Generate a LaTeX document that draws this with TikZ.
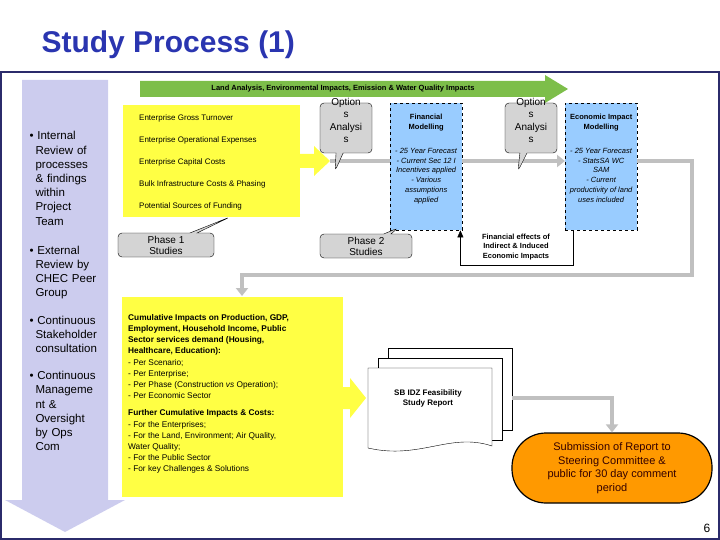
\documentclass[tikz,border=0pt]{standalone}
\usepackage{fontspec}
\setmainfont{Liberation Sans}
\usetikzlibrary{calc, positioning, shapes.callouts, shapes.arrows, arrows.meta}
\definecolor{navy}{HTML}{2B2B6B}
\definecolor{titleblue}{HTML}{2A35B0}
\definecolor{lav}{HTML}{CCCCEE}
\definecolor{boxyellow}{HTML}{FFFF44}
\definecolor{boxblue}{HTML}{99CCFF}
\definecolor{flowgray}{HTML}{C0C0C0}
\definecolor{callgray}{HTML}{D4D4D4}
\definecolor{leafgreen}{HTML}{7DBE4A}
\definecolor{orangepill}{HTML}{FF9900}
\tikzset{
  yellowbox/.style={fill=boxyellow, draw=none, inner sep=0pt, anchor=north west},
  modelbox/.style={fill=boxblue, draw, dashed, anchor=north west, minimum width=72pt, minimum height=127pt, inner sep=0pt},
  boxtext/.style={anchor=north, align=center, inner sep=0pt, font=\fontsize{7.5}{9.8}\selectfont},
  callout/.style={rectangle callout, rounded corners=4pt, fill=callgray, draw, align=center, font=\fontsize{10}{11}\selectfont},
  flow/.style={draw=flowgray, line width=4pt},
  flowtip/.style={flow, -{Triangle[length=8pt,width=12pt]}},
  page/.style={draw, fill=white}
}
\begin{document}
\begin{tikzpicture}[x=1pt,y=-1pt]
    \useasboundingbox (0,0) rectangle (720,540);
    % Title and frame
    \node[anchor=west, text=titleblue, font=\fontsize{30}{32}\bfseries\selectfont] (title) at (38,45) {Study Process (1)};
    \draw[navy, line width=1.5pt] (1,72) rectangle (719,539);

    % Left review arrow
    \fill[lav] (22,80) -- (108,80) -- (108,500) -- (125,500) -- (65,532) -- (5,500) -- (22,500) -- cycle;
    \node[anchor=north west, text width=70pt, align=left, font=\fontsize{11.5}{14.2}\selectfont] (review) at (26,128)
      {\textbullet\ Internal\\ \hspace*{6pt}Review of\\ \hspace*{6pt}processes\\ \hspace*{6pt}\& findings\\ \hspace*{6pt}within\\ \hspace*{6pt}Project\\ \hspace*{6pt}Team\\[15pt]
       \textbullet\ External\\ \hspace*{6pt}Review by\\ \hspace*{6pt}CHEC Peer\\ \hspace*{6pt}Group\\[13pt]
       \textbullet\ Continuous\\ \hspace*{6pt}Stakeholder\\ \hspace*{6pt}consultation\\[13pt]
       \textbullet\ Continuous\\ \hspace*{6pt}Manageme\\ \hspace*{6pt}nt \&\\ \hspace*{6pt}Oversight\\ \hspace*{6pt}by Ops\\ \hspace*{6pt}Com};

    % Green arrow
    \fill[leafgreen] (140,81) -- (545,81) -- (545,75) -- (568,89) -- (545,103) -- (545,97) -- (140,97) -- cycle;
    \node[font=\fontsize{7.5}{9}\bfseries\selectfont] (land) at (343,89) {Land Analysis, Environmental Impacts, Emission \& Water Quality Impacts};

    % Phase 1 inputs
    \node[yellowbox, minimum width=177pt, minimum height=112pt] (inputs) at (123,105) {};
    \node[anchor=north west, align=left, inner sep=0pt, font=\fontsize{8}{21.8}\selectfont] (inputtext) at ($(inputs.north west)+(16,10)$)
      {Enterprise Gross Turnover\\ Enterprise Operational Expenses\\ Enterprise Capital Costs\\ Bulk Infrastructure Costs \& Phasing\\ Potential Sources of Funding};
    \fill[boxyellow] (300,154) -- (314,154) -- (314,146) -- (330,161) -- (314,176) -- (314,168) -- (300,168) -- cycle;
    \coordinate (inout) at (330,161);

    % Models
    \node[modelbox] (fin) at (390,103) {};
    \node[boxtext] (fintext) at ($(fin.north)+(0,11)$)
      {\textbf{Financial}\\ \textbf{Modelling}\\[14pt] \textit{- 25 Year Forecast}\\ \textit{- Current Sec 12 I}\\ \textit{Incentives applied}\\ \textit{- Various}\\ \textit{assumptions}\\ \textit{applied}};
    \node[modelbox] (econ) at (565,103) {};
    \node[boxtext] (econtext) at ($(econ.north)+(0,11)$)
      {\textbf{Economic Impact}\\ \textbf{Modelling}\\[14pt] \textit{- 25 Year Forecast}\\ \textit{- StatsSA WC}\\ \textit{SAM}\\ \textit{- Current}\\ \textit{productivity of land}\\ \textit{uses included}};

    \draw[flow] (inout) -- (fin.west |- inout);
    \draw[flowtip] (fin.east |- inout) -- (econ.west |- inout);
    \coordinate (bendA) at (692,161);
    \coordinate (bendB) at (692,275);
    \coordinate (bendC) at (242,275);
    \draw[flowtip] (econ.east |- inout) -- (bendA) -- (bendB) -- (bendC) -- (242,296);

    % Callouts
    \foreach \cx/\px/\nm in {346/335/opt1, 531/518/opt2} {
      \node[callout, minimum width=52pt, minimum height=50pt, callout absolute pointer={(\px,171)}] (\nm) at (\cx,128) {};
      \node[anchor=north, align=center, inner sep=0pt, font=\fontsize{10}{12.5}\selectfont] (\nm text) at (\cx,98) {Option\\ s\\ Analysi\\ s};
    }
    \node[callout, minimum width=96pt, minimum height=24pt, callout absolute pointer={(230,217)}, inner sep=1pt] (ph1) at (166,245) {Phase 1\\ Studies};
    \node[callout, minimum width=92pt, minimum height=24pt, callout absolute pointer={(398,228)}, inner sep=1pt] (ph2) at (366,246) {Phase 2\\ Studies};

    % Feedback loop
    \coordinate (fbR) at ($(econ.south west)+(8,35)$);
    \coordinate (fbL) at ($(fin.south east)+(-2,35)$);
    \draw[-{Triangle[length=7pt,width=6pt]}] ($(econ.south west)+(8,0)$) -- (fbR) -- (fbL) -- ($(fin.south east)+(-2,0)$);
    \node[font=\fontsize{7.5}{9.5}\bfseries\selectfont, align=center] (fbtext) at (516,247) {Financial effects of\\ Indirect \& Induced\\ Economic Impacts};

    % Cumulative impacts
    \node[yellowbox, minimum width=221pt, minimum height=200pt] (cumul) at (122,297) {};
    \node[anchor=north west, align=left, inner sep=0pt, font=\fontsize{8.3}{11.2}\selectfont] (cumultext) at ($(cumul.north west)+(6,17)$)
      {\textbf{Cumulative Impacts on Production, GDP,}\\ \textbf{Employment, Household Income, Public}\\ \textbf{Sector services demand (Housing,}\\ \textbf{Healthcare, Education):}\\
       - Per Scenario;\\ - Per Enterprise;\\ - Per Phase (Construction \textit{vs} Operation);\\ - Per Economic Sector\\[6pt]
       \textbf{Further Cumulative Impacts \& Costs:}\\ - For the Enterprises;\\ - For the Land, Environment; Air Quality,\\ Water Quality;\\ - For the Public Sector\\ - For key Challenges \& Solutions};
    \fill[boxyellow] (343,387) -- (350,387) -- (350,378) -- (366,398) -- (350,418) -- (350,409) -- (343,409) -- cycle;

    % Report stack
    \foreach \d in {20,10} {
      \draw[page] (368+\d,368-\d) -- (492+\d,368-\d) -- (492+\d,450-\d) -- (368+\d,450-\d) -- cycle;
    }
    \draw[page] (368,368) -- (492,368) -- (492,446) .. controls (450,432) and (420,460) .. (368,448) -- cycle;
    \node[font=\fontsize{8}{10}\bfseries\selectfont, align=center] (report) at (428,398) {SB IDZ Feasibility\\ Study Report};
    \coordinate (repout) at (512,398);

    % Submission
    \node[draw, line width=1.2pt, fill=orangepill, rounded corners=34pt, minimum width=200pt, minimum height=70pt, align=center, text=black!80!red, font=\fontsize{11}{13.5}\selectfont] (submit) at (612,468)
      {Submission of Report to\\ Steering Committee \&\\ public for 30 day comment\\ period};
    \draw[flowtip] (repout) -- (submit.north |- repout) -- (submit.north);

    \node[font=\fontsize{12}{14}\selectfont] (pagenum) at (707,528) {6};
\end{tikzpicture}
\end{document}
